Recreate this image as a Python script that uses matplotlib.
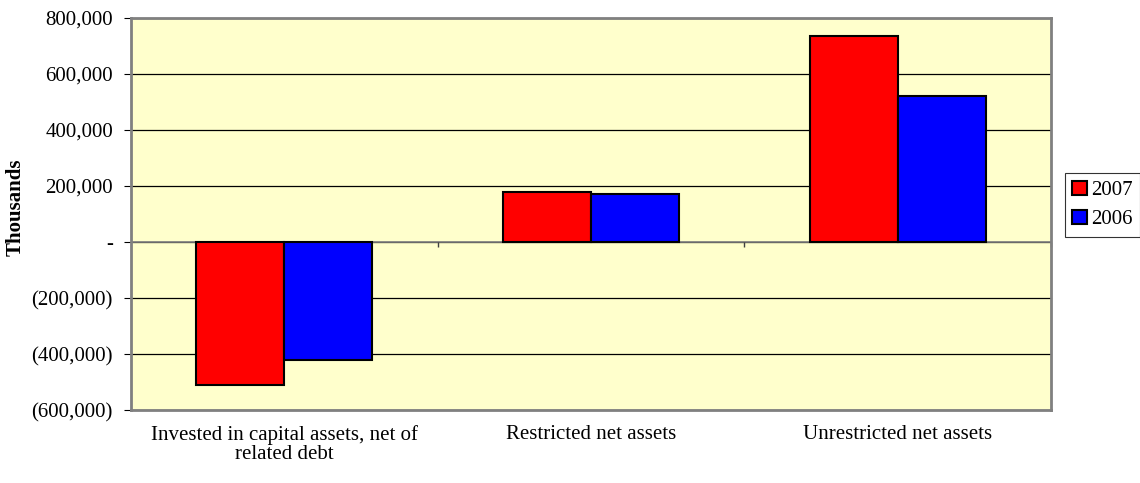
import matplotlib
matplotlib.use("Agg")
import matplotlib.pyplot as plt
import numpy as np
from matplotlib.ticker import FuncFormatter

categories = ["Invested in capital assets, net of\nrelated debt", "Restricted net assets", "Unrestricted net assets"]
series_names = ["2007", "2006"]
values_2007 = [-512000, 179000, 736000]
values_2006 = [-421000, 170000, 521000]
colors = ["#FF0000", "#0000FF"]

plt.rcParams['font.family'] = ['Liberation Serif', 'DejaVu Serif']
FS = 15

fig = plt.figure(figsize=(11.4, 4.83), dpi=100)
ax = fig.add_axes([131/1140, 73/483, (1051-131)/1140, (410-18)/483])
ax.set_facecolor("#FFFFCC")

x = np.arange(len(categories))
w = 0.287
for i, (vals, name) in enumerate(zip([values_2007, values_2006], series_names)):
    ax.bar(x + (i - 0.5) * w, vals, width=w, color=colors[i], edgecolor="black",
           linewidth=1.5, label=name, zorder=3)

ax.set_xlim(-0.5, 2.5)
ax.set_ylim(-600000, 800000)
ax.set_yticks(np.arange(-600000, 800001, 200000))

def fmt(v, pos):
    if abs(v) < 1:
        return "-"
    if v < 0:
        return "({:,.0f})".format(-v)
    return "{:,.0f}".format(v)
ax.yaxis.set_major_formatter(FuncFormatter(fmt))
ax.grid(axis="y", color="black", linewidth=0.9, zorder=1)
ax.axhline(0, color="#808080", linewidth=1.2, zorder=2)
ax.vlines([0.5, 1.5, 2.5], -18000, 0, color="#404040", linewidth=1, zorder=2, clip_on=False)

ax.set_xticks(x)
ax.set_xticklabels(categories, fontsize=FS, linespacing=1.0)
ax.tick_params(axis="x", length=0, pad=11)
ax.tick_params(axis="y", length=5, labelsize=FS, pad=8, color="black")

for s in ax.spines.values():
    s.set_color("#808080")
    s.set_linewidth(2)

ax.set_ylabel("Thousands", fontsize=FS, fontweight="bold")
ax.yaxis.set_label_coords((26 - 131) / 920, (410 - 207) / 392)

leg = ax.legend(loc="center left", bbox_to_anchor=(1065/1140, (483 - 205)/483), bbox_transform=fig.transFigure,
                frameon=True, fancybox=False, fontsize=FS, handlelength=0.7, handleheight=0.7,
                handletextpad=0.2, borderpad=0.35, labelspacing=0.45, borderaxespad=0)
leg.get_frame().set_edgecolor("black")
leg.get_frame().set_linewidth(0.8)

fig.savefig("out.png", dpi=100)
